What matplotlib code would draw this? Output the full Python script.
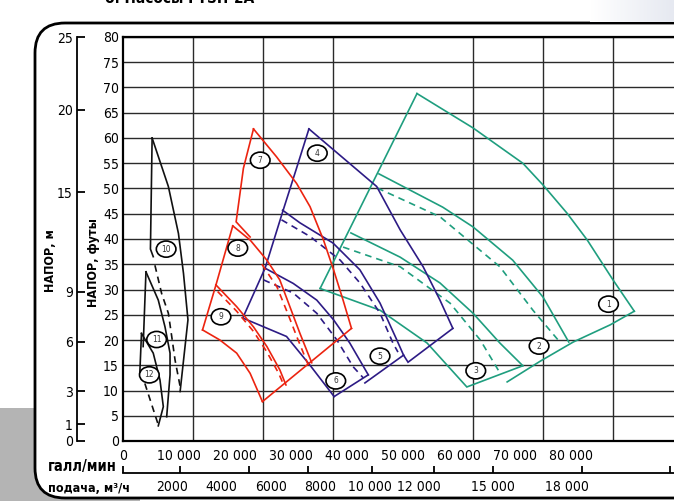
import numpy as np
import matplotlib
matplotlib.use('Agg')
import matplotlib.pyplot as plt
from matplotlib.patches import Ellipse, FancyBboxPatch, Rectangle
from matplotlib.ticker import NullFormatter

plt.rcParams['font.family'] = ['DejaVu Sans Condensed', 'Liberation Sans Narrow', 'DejaVu Sans']
plt.rcParams['font.stretch'] = 'condensed'

# ---- данные (подача в галл/мин, напор в футах) ----
# зелёные зоны 1-3
z1_left = [(52500, 68.8), (35200, 30.2)]
z1_top = [(52500, 68.8), (62500, 62.0), (71400, 55.0), (75000, 50.7), (79300, 45.1),
          (82900, 39.8), (87500, 31.9), (91300, 25.7)]
z1_right = [(91300, 25.7), (87000, 23.0), (80400, 19.6), (74500, 15.8), (68600, 11.7)]
z1_bottom = [(35200, 30.2), (45900, 25.9), (54300, 19.4), (61400, 10.7), (71400, 14.9)]
z2_top = [(45700, 52.9), (57100, 46.3), (62500, 42.4), (69600, 35.8), (75000, 28.5), (79600, 19.6)]
z2_dash = [(45400, 50.1), (56600, 44.4), (67300, 34.5), (73200, 25.9), (78000, 19.6)]
z3_top = [(40700, 41.2), (49500, 36.4), (56600, 31.3), (62500, 25.3), (67300, 19.4), (71400, 14.9)]
z3_dash = [(39300, 38.4), (49500, 34.5), (58400, 27.3), (63800, 20.0), (67300, 13.5)]

# синие зоны 4-6
z456_left = [(33200, 61.8), (30900, 53.7), (28600, 45.7), (25400, 34.3), (21400, 24.4)]
z4_top = [(33200, 61.8), (45300, 50.4), (49500, 41.8), (53600, 34.5), (56600, 27.9), (58900, 22.3)]
z4_right = [(58900, 22.3), (50900, 15.6), (50100, 17.0)]
z5_top = [(28500, 45.7), (31600, 43.2), (37500, 39.2), (42300, 33.9), (45900, 27.3),
          (48900, 20.0), (50100, 17.0)]
z5_dash = [(28300, 43.8), (33400, 40.5), (38800, 35.8), (42300, 31.3), (45900, 25.3),
           (48200, 19.4), (49100, 17.6)]
z5_right = [(50100, 17.0), (43200, 11.5)]
z6_top = [(25400, 34.2), (30400, 31.2), (34600, 27.9), (37600, 24.0), (40500, 19.4), (43800, 13.1)]
z6_dash = [(25100, 31.9), (30400, 29.3), (34600, 25.3), (38200, 20.0), (41100, 14.7), (42900, 12.5)]
z6_right = [(43800, 13.1), (37700, 8.8)]
z6_bottom = [(37700, 8.8), (33400, 15.0), (29200, 20.7), (21500, 24.3)]

# красные зоны 7-9
z7_top = [(23300, 61.8), (27400, 56.3), (31000, 51.0), (33400, 46.4), (35800, 39.8),
          (37600, 33.9), (39300, 27.9), (40800, 22.3)]
z7_left = [(23300, 61.8), (21500, 54.0), (20200, 43.4), (22700, 40.4)]
z789_right = [(40800, 22.3), (24900, 7.8)]
z8_top = [(19600, 42.6), (22700, 39.8), (25700, 35.8), (28000, 31.9), (29800, 26.6),
          (31600, 21.3), (33700, 15.5)]
z8_dash = [(24800, 35.0), (27500, 30.5), (29400, 25.3), (31200, 20.2), (33100, 15.0)]
z8_left = [(19600, 42.6), (16600, 30.9)]
z9_top = [(16600, 30.9), (20300, 26.6), (23300, 22.6), (25700, 18.7), (28000, 14.1), (29100, 11.1)]
z9_dash = [(16900, 29.6), (20300, 25.7), (23300, 21.7), (25600, 17.8), (27800, 13.4), (28500, 11.6)]
z9_left = [(16600, 30.9), (14200, 22.0)]
z9_bottom = [(14200, 22.0), (17300, 20.0), (20300, 17.4), (22700, 13.4), (24900, 7.8)]

# чёрные зоны 10-12
z10_left = [(5200, 60.0), (4900, 38.0), (5400, 36.5)]
z10_right = [(5200, 60.0), (8100, 50.4), (9900, 41.1), (10800, 33.2), (11600, 24.0), (10200, 9.8)]
z10_dash = [(5700, 34.8), (6900, 29.2), (8100, 25.3), (8700, 20.7), (9300, 16.0), (10200, 10.8)]
z11_left = [(4100, 33.5), (3600, 18.7)]
z11_right = [(4100, 33.5), (6300, 27.9), (7500, 22.6), (8400, 17.4), (8400, 13.1), (7800, 4.8)]
z12_left = [(3300, 21.3), (3000, 13.4)]
z12_right = [(3300, 21.3), (5400, 17.4), (6600, 12.1), (7200, 6.8), (6300, 3.0)]
z12_dash = [(3900, 11.4), (6300, 3.2)]

zone_ids = ['1', '2', '3', '4', '5', '6', '7', '8', '9', '10', '11', '12']
zone_label_q = [86700, 74300, 63000, 34700, 45900, 38000, 24500, 20500, 17500, 7700, 6000, 4700]
zone_label_h = [27.1, 18.8, 13.9, 57.0, 16.8, 11.9, 55.6, 38.2, 24.6, 38.0, 20.1, 13.1]

# подписи осей
gpm_ticks = [0, 10000, 20000, 30000, 40000, 50000, 60000, 70000, 80000]
gpm_labels = ['0', '10 000', '20 000', '30 000', '40 000', '50 000', '60 000', '70 000', '80 000']
grid_q = np.arange(12500, 100001, 12500)
ft_ticks = list(range(0, 81, 5))
m_ticks = [0, 1, 3, 6, 9, 15, 20, 25]
m3h_marks = [0, 2300, 5100, 7500, 10100, 12600, 15000, 18600, 22200]
m3h_labels = [2000, 4000, 6000, 8000, 10000, 12000, 15000, 18000]

GREEN = '#1f9e7f'
NAVY = '#2d1b85'
RED = '#ec2410'
BLACK = '#111111'

# ---- рисунок ----
W, H = 674, 501
fig = plt.figure(figsize=(W / 100, H / 100), dpi=100)

# серый фон слева внизу и рамка
fig.add_artist(Rectangle((0, 0), 140, 93, transform=None, facecolor='#b4b4b4',
                         edgecolor='none', zorder=-3))
fig.add_artist(FancyBboxPatch((35, 3), 720, 475, boxstyle='round,pad=0,rounding_size=30',
                              transform=None, facecolor='white', edgecolor='black',
                              linewidth=2.0, zorder=-2))
# светлый градиент в правом верхнем углу
gax = fig.add_axes([590 / W, (H - 22) / H, 84 / W, 22 / H], zorder=-1)
gax.imshow(np.linspace(0, 1, 50)[None, :], cmap=matplotlib.colors.LinearSegmentedColormap.from_list(
    'g', ['#ffffff', '#e6e9f1']), aspect='auto')
gax.axis('off')

fig.text(105 / W, (H - 3) / H, 'б. Насосы FTSH-2A', fontsize=11, fontweight='bold',
         va='baseline', ha='left')

ax = fig.add_axes([123 / W, (H - 441) / H, 560 / W, 404 / H])
ax.set_xlim(0, 100000)
ax.set_ylim(0, 80)
ax.set_axisbelow(True)


def draw(pts, color, dashed=False):
    q = [p[0] for p in pts]
    h = [p[1] for p in pts]
    ax.plot(q, h, color=color, lw=1.2, ls=(0, (4, 3)) if dashed else '-',
            solid_joinstyle='miter', zorder=3)


for line in [z1_left, z1_top, z1_right, z1_bottom, z2_top, z3_top]:
    draw(line, GREEN)
for line in [z2_dash, z3_dash]:
    draw(line, GREEN, dashed=True)
for line in [z456_left, z4_top, z4_right, z5_top, z5_right, z6_top, z6_right, z6_bottom]:
    draw(line, NAVY)
for line in [z5_dash, z6_dash]:
    draw(line, NAVY, dashed=True)
for line in [z7_top, z7_left, z789_right, z8_top, z8_left, z9_top, z9_left, z9_bottom]:
    draw(line, RED)
for line in [z8_dash, z9_dash]:
    draw(line, RED, dashed=True)
for line in [z10_left, z10_right, z11_left, z11_right, z12_left, z12_right]:
    draw(line, BLACK)
for line in [z10_dash, z12_dash]:
    draw(line, BLACK, dashed=True)

# номера зон в овалах
for lab, q, h in zip(zone_ids, zone_label_q, zone_label_h):
    ax.add_patch(Ellipse((q, h), 3500, 3.2, facecolor='white', edgecolor='black', lw=1.2, zorder=4))
    ax.text(q, h, lab, fontsize=6, ha='center', va='center', color='#333333', zorder=5)

# сетка
ax.set_yticks(ft_ticks)
ax.set_xticks(gpm_ticks, labels=gpm_labels)
ax.set_xticks(grid_q, minor=True)
ax.grid(axis='y', which='major', color='#2a2a2a', lw=1.0)
ax.grid(axis='x', which='minor', color='#2a2a2a', lw=1.0)
ax.tick_params(axis='both', which='both', length=0, labelsize=10)
ax.tick_params(axis='x', which='major', pad=6)
ax.tick_params(axis='y', which='major', pad=3)
for s in ['left', 'top', 'bottom']:
    ax.spines[s].set_linewidth(1.6)
ax.spines['right'].set_visible(False)

# шкала в метрах
secm = ax.secondary_yaxis(-46 / 560)
secm.set_yticks(np.minimum(np.array(m_ticks) * 3.2808, 80), labels=[str(m) for m in m_ticks])
secm.tick_params(direction='in', length=6, width=1.3, labelsize=10, pad=3)
secm.spines['left'].set_linewidth(1.3)

# шкала м3/ч
secq = ax.secondary_xaxis(-32 / 404, functions=(lambda q: q / 4.403, lambda m: m * 4.403))
secq.xaxis.remove_overlapping_locs = False
secq.set_xticks(m3h_marks)
secq.xaxis.set_major_formatter(NullFormatter())
secq.set_xticks(m3h_labels, labels=[f'{v:,}'.replace(',', ' ') if v >= 10000 else str(v)
                                    for v in m3h_labels], minor=True)
secq.tick_params(which='major', direction='in', length=5, width=1.3)
secq.tick_params(which='minor', length=0, pad=5, labelsize=10)
secq.spines['bottom'].set_linewidth(1.3)

# подписи осей
fig.text(51 / W, (H - 261) / H, 'НАПОР, м', rotation=90, ha='center', va='center',
         fontsize=9, fontweight='bold')
fig.text(93 / W, (H - 263) / H, 'НАПОР, футы', rotation=90, ha='center', va='center',
         fontsize=9, fontweight='bold')
fig.text(48 / W, (H - 467) / H, 'галл/мин', ha='left', va='center', fontsize=10.5, fontweight='bold')
fig.text(48 / W, (H - 489) / H, 'подача, м³/ч', ha='left', va='center', fontsize=9, fontweight='bold')

fig.savefig('out.png', dpi=100)
